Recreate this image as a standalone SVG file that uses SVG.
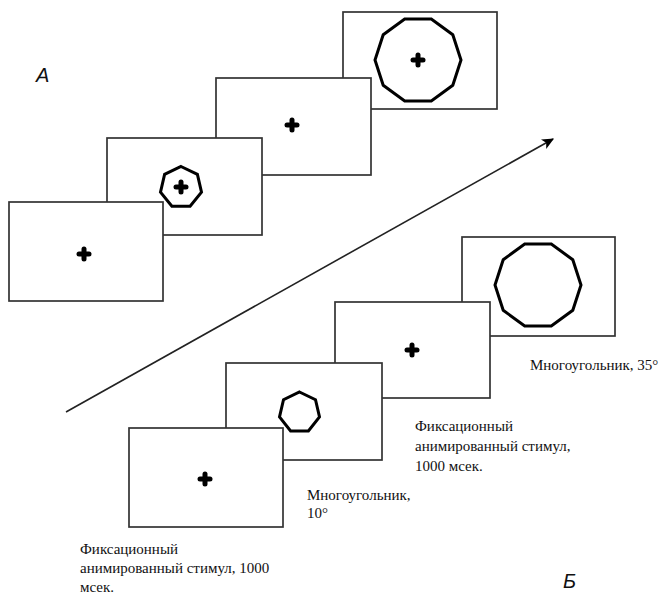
<svg xmlns="http://www.w3.org/2000/svg" width="662" height="594" viewBox="0 0 662 594">
<style>
.frame{fill:#fff;stroke:#333;stroke-width:1.7}
.poly{fill:none;stroke:#000;stroke-width:3;stroke-linejoin:miter}
.cross{stroke:#000;stroke-width:5;stroke-linecap:round}
.lbl{font-family:"Liberation Serif","Times New Roman",serif;font-size:15px;fill:#111}
.big{font-family:"Liberation Sans",Arial,sans-serif;font-size:20px;font-style:italic;fill:#111}
</style>
<defs>
<marker id="ah" viewBox="0 0 10 10" refX="9" refY="5" markerWidth="12" markerHeight="12" orient="auto" markerUnits="userSpaceOnUse">
<path d="M0,0.5 L10,5 L0,9.5 L2.5,5 Z" fill="#000"/>
</marker>
<g id="cr"><line class="cross" x1="-5" y1="0" x2="5" y2="0"/><line class="cross" x1="0" y1="-5" x2="0" y2="5"/></g>
</defs>
<rect width="662" height="594" fill="#fff"/>

<g id="connectors">
<line x1="66" y1="412" x2="553" y2="139" stroke="#222" stroke-width="1.6" marker-end="url(#ah)"/>
</g>

<!-- Top series A -->
<g id="a4">
<rect class="frame" x="343" y="12" width="154" height="97"/>
<polygon class="poly" points="461,60 452.8,85.3 431.3,100.9 404.7,100.9 383.2,85.3 375,60 383.2,34.7 404.7,19.1 431.3,19.1 452.8,34.7"/>
<use href="#cr" x="418" y="60"/>
</g>
<g id="a3">
<rect class="frame" x="216" y="78" width="155" height="97"/>
<use href="#cr" x="292" y="125"/>
</g>
<g id="a2">
<rect class="frame" x="107" y="138" width="155" height="97"/>
<polygon class="poly" points="181,166.5 197.4,174.4 201.5,192.1 190.1,206.3 171.9,206.3 160.5,192.1 164.6,174.4"/>
<use href="#cr" x="181" y="187"/>
</g>
<g id="a1">
<rect class="frame" x="9" y="202" width="154" height="99"/>
<use href="#cr" x="84" y="254"/>
</g>

<!-- Bottom series B -->
<g id="b4">
<rect class="frame" x="462" y="237" width="153" height="99"/>
<polygon class="poly" points="581,285 572.8,310.3 551.3,325.9 524.7,325.9 503.2,310.3 495,285 503.2,259.7 524.7,244.1 551.3,244.1 572.8,259.7"/>
</g>
<g id="b3">
<rect class="frame" x="335" y="302" width="155" height="96"/>
<use href="#cr" x="412" y="350"/>
</g>
<g id="b2">
<rect class="frame" x="226" y="363" width="156" height="97"/>
<polygon class="poly" points="299.5,392 315.5,399.7 319.5,417 308.4,430.9 290.6,430.9 279.5,417 283.5,399.7"/>
</g>
<g id="b1">
<rect class="frame" x="129" y="428" width="154" height="99"/>
<use href="#cr" x="205" y="479"/>
</g>

<g id="labels">
<text class="big" x="36" y="82">А</text>
<text class="big" x="563" y="588">Б</text>
<text class="lbl" x="80" y="554">Фиксационный</text>
<text class="lbl" x="80" y="573">анимированный стимул, 1000</text>
<text class="lbl" x="80" y="592">мсек.</text>
<text class="lbl" x="307" y="500">Многоугольник,</text>
<text class="lbl" x="307" y="518">10°</text>
<text class="lbl" x="415" y="431">Фиксационный</text>
<text class="lbl" x="415" y="451">анимированный стимул,</text>
<text class="lbl" x="415" y="471">1000 мсек.</text>
<text class="lbl" x="530" y="370">Многоугольник, 35°</text>
</g>
</svg>
